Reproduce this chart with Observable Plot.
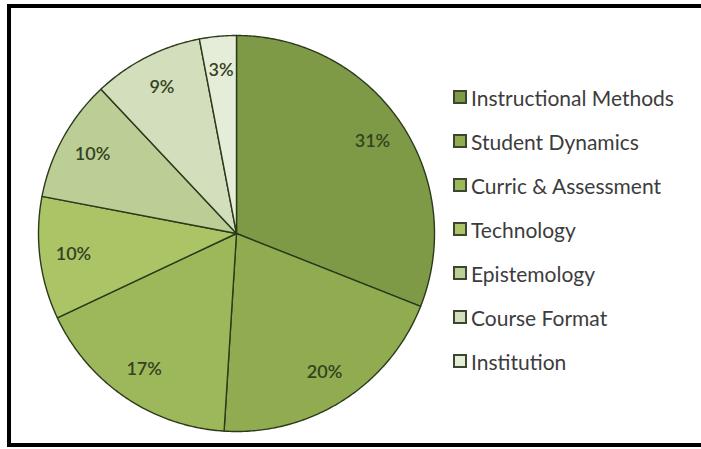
<!DOCTYPE html>
<html>
<head>
<meta charset="utf-8">
<script src="https://cdn.jsdelivr.net/npm/d3@7"></script>
<script src="https://cdn.jsdelivr.net/npm/@observablehq/plot@0.6"></script>
<style>
  html, body { margin: 0; padding: 0; background: #fff; }
  #wrap { position: relative; width: 701px; height: 449px; overflow: hidden; background: #fff; }
  #frame { position: absolute; left: 7px; top: 4px; width: 720px; height: 435px; border: 4px solid #000; box-sizing: content-box; pointer-events: none; }
  #chart { position: absolute; left: 0; top: 0; }
  #legend { position: absolute; left: 453px; top: 75px; font-family: Lato, "Liberation Sans", sans-serif; font-size: 21px; color: #3c3c3c; }
  .item { height: 44px; display: flex; align-items: center; }
  .sw { width: 10px; height: 10px; border: 2px solid #3b4630; margin-right: 4px; flex: none; }
</style>
</head>
<body>
<div id="wrap">
  <div id="chart"></div>
  <div id="legend"></div>
  <div id="frame"></div>
</div>
<script>
const categories = ["Instructional Methods", "Student Dynamics", "Curric & Assessment", "Technology", "Epistemology", "Course Format", "Institution"];
const values = [31, 20, 17, 10, 10, 9, 3];
const colors = ["#7e9a46", "#90ab50", "#9db85b", "#abc466", "#bbce95", "#d2debc", "#e5ecd8"];

const total = d3.sum(values);
const pie = d3.pie().sort(null).value(d => d.value)(categories.map((c, i) => ({cat: c, value: values[i]})));

// slice outlines in unit-circle coordinates (angle clockwise from 12 o'clock)
const pts = [];
pie.forEach((s, i) => {
  const n = Math.max(8, Math.ceil((s.endAngle - s.startAngle) / 0.01));
  pts.push({cat: s.data.cat, x: 0, y: 0});
  for (let k = 0; k <= n; k++) {
    const a = s.startAngle + (s.endAngle - s.startAngle) * k / n;
    pts.push({cat: s.data.cat, x: Math.sin(a), y: Math.cos(a)});
  }
  pts.push({cat: s.data.cat, x: 0, y: 0});
});
const labelR = 0.83;
const labels = pie.map(s => {
  const a = (s.startAngle + s.endAngle) / 2;
  return {x: labelR * Math.sin(a), y: labelR * Math.cos(a), text: Math.round(s.data.value / total * 100) + "%"};
});

const cx = 236, cy = 233, r = 198;
const chart = Plot.plot({
  width: 701,
  height: 449,
  margin: 0,
  x: {domain: [-1, 1], range: [cx - r, cx + r], axis: null},
  y: {domain: [-1, 1], range: [cy + r, cy - r], axis: null},
  color: {domain: categories, range: colors},
  style: {background: "transparent"},
  marks: [
    Plot.line(pts, {x: "x", y: "y", z: "cat", fill: "cat", stroke: "#2c3a1c", strokeWidth: 1.4, curve: "linear"}),
    Plot.text(labels, {x: "x", y: "y", text: "text", fill: "#34421f", fontSize: 18, fontWeight: 600, fontFamily: "Lato, 'Liberation Sans', sans-serif"})
  ]
});
document.getElementById("chart").appendChild(chart);

const legend = d3.select("#legend");
categories.forEach((c, i) => {
  const it = legend.append("div").attr("class", "item");
  it.append("div").attr("class", "sw").style("background", colors[i]);
  it.append("span").text(c);
});
</script>
</body>
</html>
